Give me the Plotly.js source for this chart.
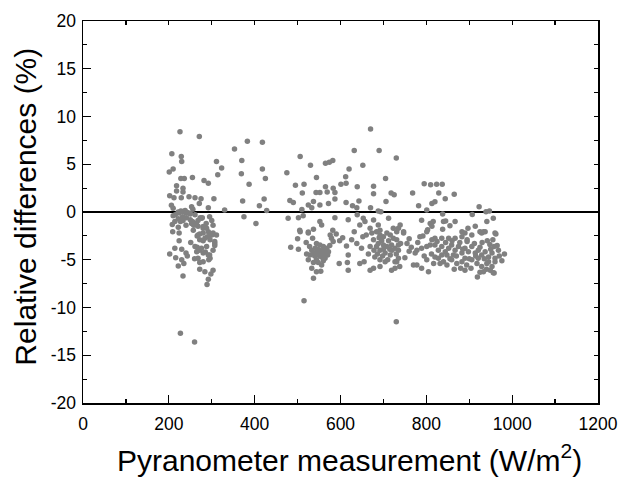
<!DOCTYPE html>
<html>
<head>
<meta charset="utf-8">
<script src="https://cdn.plot.ly/plotly-3.0.1.min.js"></script>
<style>html,body{margin:0;padding:0;background:#fff;}#chart{width:622px;height:479px;}</style>
</head>
<body>
<div id="chart"></div>
<script>
// Cluster around 200-330 W/m2
const xLow = [226,271,207,229,230,201,210,228,236,255,282,292,311,323,314,218,218,233,233,202,212,229,247,261,275,305,271,206,210,253,292,330,
  222,233,243,250,228,238,256,215,210,222,224,232,240,214,227,233,241,250,255,263,268,273,278,208,222,240,258,268,280,295,300,287,303,
  249,261,276,253,265,280,288,257,268,280,292,300,311,272,284,296,307,261,276,288,303,265,280,292,268,296,280,
  209,224,224,251,266,272,280,290,297,303,307,307,214,230,240,243,202,216,230,235,222,233,260,266,272,285,295,272,293,272,284,303,298,292,289,227,260];
const yLow = [8.4,7.9,6.1,5.8,5.3,4.2,4.5,3.5,3.5,3.6,3.3,3.0,5.3,4.6,3.9,2.75,2.2,2.5,2.1,1.7,1.5,1.5,1.6,1.5,1.4,1.4,0.9,0.7,0.4,0.55,0.45,0.2,
  0.0,0.05,-0.05,-0.2,0.1,0.15,0.3,-0.3,-0.4,-0.7,-0.1,-0.5,-0.1,-1.0,-1.0,-0.9,-0.6,-0.8,-1.0,-1.2,-0.9,-0.6,-0.6,-1.3,-1.6,-1.4,-1.4,-1.5,-1.7,-0.5,-0.9,-1.2,-1.4,
  -0.14,-0.3,-0.66,-1.2,-1.36,-1.53,-1.7,-1.9,-2.4,-2.2,-2.06,-2.4,-2.4,-2.9,-2.75,-2.9,-3.3,-3.6,-3.8,-3.6,-4.0,-4.15,-4.3,-4.5,-4.85,-4.85,-5.2,
  -2.06,-2.2,-3.0,-3.2,-2.5,-2.3,-3.0,-2.6,-2.4,-2.2,-3.1,-3.5,-3.8,-3.9,-4.3,-4.6,-4.4,-4.8,-5.0,-5.4,-5.65,-6.7,-4.9,-3.7,-4.0,-4.2,-4.5,-5.3,-5.0,-6.0,-6.25,-6.1,-6.5,-7.05,-7.6,-12.7,-13.6];

// Sparse points between 330 and 430 W/m2
const xMid = [353,383,418,370,369,418,425,387,372,411,422,428,375,403];
const yMid = [6.6,7.4,7.3,5.4,4.0,4.5,3.5,2.9,1.15,0.65,1.35,0.15,-0.5,-1.2];

// Cluster around 470-620 W/m2
const xC2 = [506,530,565,574,582,620,475,544,612,495,515,601,613,565,583,511,543,552,569,587,482,490,537,525,533,552,572,587,613,510,478,502,513,587,618,552,556,505,537,525,582,
  484,502,506,525,535,544,552,560,568,572,560,552,541,537,548,556,564,521,529,544,537,556,533,544,554,537,579,583,576,597,618,616,618,614,515,
  545,550,558,562,566,570,553,547,540,533,528,575,590,598,605,560,548,525,500,520];
const yC2 = [5.8,4.9,5.1,5.2,5.4,4.5,4.1,3.6,3.7,2.8,2.9,2.9,3.0,2.65,2.5,2.0,2.05,2.05,2.1,2.05,1.2,1.0,1.1,0.73,0.45,0.73,0.9,1.35,1.0,0.25,-0.66,-0.6,-0.4,-0.6,-0.8,-1.0,-1.36,-1.9,-1.8,-2.1,-1.9,
  -3.7,-3.9,-2.06,-2.2,-2.75,-3.3,-3.45,-3.6,-3.8,-4.15,-4.3,-4.0,-3.8,-4.3,-4.5,-4.7,-4.85,-4.4,-4.5,-5.0,-5.3,-5.55,-5.9,-6.25,-6.2,-6.95,-2.75,-3.1,-2.4,-5.4,-4.5,-5.3,-6.1,-3.55,-9.3,
  -4.2,-4.3,-4.1,-4.4,-4.0,-4.5,-4.6,-3.9,-4.6,-4.0,-3.6,-3.5,-2.3,-3.0,-2.7,-5.1,-5.3,-5.0,-2.8,-3.2];

// Cluster around 620-740 W/m2
const xC3 = [670,632,690,730,652,705,639,677,677,718,725,628,643,638,670,688,706,694,639,653,632,645,657,669,677,688,692,712,723,731,
  626,638,649,652,645,655,673,684,692,700,708,716,723,731,677,688,700,708,719,727,735,692,704,716,680,692,704,727,735,669,677,692,719,727,669,730,
  684,696,712,720,698,686,710,700,678,690,715,660,665,740,730];
const yC3 = [8.7,6.45,6.45,5.65,4.9,3.5,2.65,2.7,1.9,2.0,1.8,0.65,1.15,0.45,0.45,0.1,1.1,0.03,-0.3,-0.66,-2.06,-1.36,-1.0,-1.7,-0.84,-1.36,-1.9,-0.66,-1.7,-2.06,
  -2.9,-3.3,-3.8,-2.6,-5.4,-5.2,-2.2,-2.06,-2.4,-2.6,-2.2,-2.4,-2.75,-2.9,-2.9,-3.3,-3.45,-3.6,-3.45,-3.8,-4.0,-4.0,-4.3,-4.5,-4.7,-5.0,-5.2,-5.2,-4.85,-6.1,-5.9,-5.7,-6.1,-5.9,-3.6,-11.5,
  -3.6,-3.0,-3.0,-4.0,-4.6,-4.4,-5.0,-3.9,-4.0,-2.7,-3.9,-2.4,-4.4,-3.3,-4.4];

// Cluster around 740-985 W/m2
const xC4 = [795,810,824,837,768,829,844,865,782,801,813,820,838,907,923,939,947,956,789,809,816,813,840,845,867,803,838,855,941,883,897,914,925,933,960,739,735,747,962,
  735,747,755,731,738,785,801,813,820,836,852,867,883,890,906,929,937,774,778,789,801,809,770,778,789,805,801,817,982,976,958,919,
  820,828,836,844,852,859,867,875,883,890,898,906,914,921,929,937,945,953,960,828,840,848,859,871,883,894,906,918,929,941,953,960,836,863,890,921,945,890,933,949,956,968,
  825,845,860,878,895,912,930,948,955,870,885,900,915,925,935,950,965,855,848,832,820,812,795,760,765,780,792,760,750,904,880,865,942,958,970,895,940,925];
const yC4 = [2.97,2.86,2.9,2.9,2.0,2.0,1.4,1.85,0.66,0.2,0.9,1.08,-0.2,-0.25,0.55,0.03,0.1,-0.66,-0.87,-1.2,-1.0,-1.5,-1.0,-0.95,-1.0,-1.85,-1.8,-1.45,-1.0,-2.06,-1.7,-1.5,-2.06,-2.06,-2.2,-1.36,-1.7,-2.2,-2.3,
  -3.45,-2.06,-3.3,-5.2,-5.7,-2.6,-2.06,-2.9,-2.75,-2.75,-2.75,-2.75,-2.6,-2.2,-2.4,-2.2,-2.06,-4.3,-4.0,-3.8,-3.6,-3.45,-5.55,-5.55,-5.9,-6.25,-5.0,-5.4,-4.4,-5.1,-6.4,-6.8,
  -3.45,-4.0,-3.6,-4.15,-3.8,-3.45,-4.0,-3.6,-4.3,-3.8,-4.15,-3.6,-4.3,-4.0,-4.5,-4.15,-4.7,-4.3,-4.85,-4.85,-5.2,-5.55,-5.0,-5.4,-5.2,-5.55,-5.0,-5.4,-5.7,-5.4,-5.7,-5.2,-4.5,-4.5,-4.85,-4.85,-5.2,-6.1,-6.25,-6.1,-6.35,-4.0,
  -3.1,-3.2,-3.0,-3.2,-3.1,-3.3,-3.2,-3.4,-2.9,-4.6,-3.9,-4.9,-4.6,-3.7,-4.9,-3.9,-3.5,-4.9,-4.5,-5.4,-4.7,-4.4,-4.6,-4.1,-3.7,-3.2,-2.5,-2.8,-4.8,-5.9,-5.9,-6.0,-3.0,-3.6,-4.6,-2.9,-6.0,-6.3];

const xTicks = [0,200,400,600,800,1000,1200];
const yTicks = [-20,-15,-10,-5,0,5,10,15,20];

const xAll = xLow.concat(xMid, xC2, xC3, xC4);
const yAll = yLow.concat(yMid, yC2, yC3, yC4);

const FONT = 'Liberation Sans, Arial, sans-serif';
const L = 83.3, R = 597.7, T = 21, B = 403, W = 622, H = 479;
const pw = R - L, ph = B - T;

const trace = {
  x: xAll, y: yAll, type: 'scatter', mode: 'markers',
  marker: {color: '#808080', size: 5.5, line: {width: 0}},
  hoverinfo: 'x+y', showlegend: false
};

const axisCommon = {
  showgrid: false, showline: true, linecolor: '#000', linewidth: 1.5,
  ticks: 'inside', tickcolor: '#000', tickwidth: 1.2,
  tickfont: {family: FONT, size: 17.5, color: '#000'}
};

const layout = {
  width: W, height: H,
  margin: {l: L, r: W - R, t: T, b: H - B, pad: 0},
  paper_bgcolor: '#fff', plot_bgcolor: '#fff',
  font: {family: FONT, color: '#000'},
  xaxis: Object.assign({}, axisCommon, {
    range: [0, 1200], tickmode: 'array', tickvals: xTicks, ticktext: xTicks.map(String),
    ticklen: 8, zeroline: false, mirror: true, ticklabelstandoff: 4,
    minor: {dtick: 100, ticklen: 4, ticks: 'inside', tickcolor: '#000', tickwidth: 1.2, showgrid: false}
  }),
  yaxis: Object.assign({}, axisCommon, {
    range: [-20, 20], tickmode: 'array', tickvals: yTicks, ticktext: yTicks.map(String),
    ticklen: 8, zeroline: true, zerolinecolor: '#000', zerolinewidth: 1.2, mirror: true, ticklabelstandoff: 2,
    minor: {dtick: 2.5, ticklen: 4, ticks: 'inside', tickcolor: '#000', tickwidth: 1.2, showgrid: false}
  }),
  xaxis2: {
    overlaying: 'x', side: 'top', anchor: 'y', range: [0, 1200], dtick: 100, tick0: 0,
    ticks: 'inside', ticklen: 4, tickwidth: 1.2, tickcolor: '#000',
    showticklabels: false, showgrid: false, showline: false, zeroline: false
  },
  yaxis2: {
    overlaying: 'y', side: 'right', anchor: 'x', range: [-20, 20], dtick: 2.5, tick0: 0,
    ticks: 'inside', ticklen: 4, tickwidth: 1.2, tickcolor: '#000',
    showticklabels: false, showgrid: false, showline: false, zeroline: false
  },
  annotations: [
    {text: 'Relative differences (%)', xref: 'paper', yref: 'paper',
     x: (25 - L) / pw, y: (B - 207) / ph, xanchor: 'center', yanchor: 'middle',
     textangle: -90, showarrow: false, font: {family: FONT, size: 30, color: '#000'}},
    {text: 'Pyranometer measurement (W/m<sup>2</sup>)', xref: 'paper', yref: 'paper',
     x: (349.5 - L) / pw, y: (B - 437) / ph, xanchor: 'center', yanchor: 'top',
     showarrow: false, font: {family: FONT, size: 30, color: '#000'}}
  ]
};

const ghost = {x: [0], y: [0], xaxis: 'x2', yaxis: 'y2', mode: 'markers', marker: {opacity: 0}, hoverinfo: 'skip', showlegend: false};

Plotly.newPlot('chart', [trace, ghost], layout, {staticPlot: true, displayModeBar: false});
</script>
</body>
</html>
